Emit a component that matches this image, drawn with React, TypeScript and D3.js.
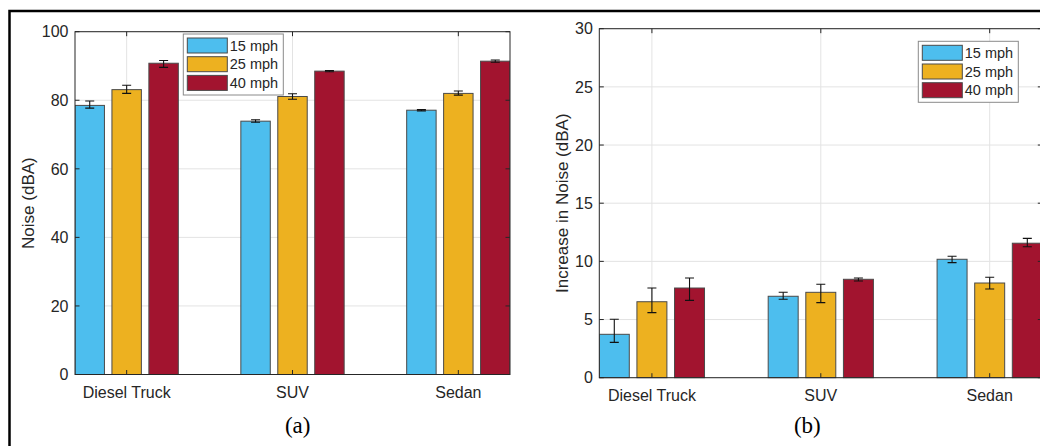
import React from 'react';
import * as d3 from 'd3';

const categories = ['Diesel Truck', 'SUV', 'Sedan'];
const speeds = ['15 mph', '25 mph', '40 mph'];
const speedColors = ['#4DBEEE', '#EDB120', '#A2142F'];

// (a) absolute noise, rows = vehicle, cols = speed
const noiseMean = [
    [78.5, 83.1, 90.8],
    [73.9, 81.1, 88.5],
    [77.1, 82.0, 91.4]
];
const noiseLow = [
    [77.7, 82.0, 89.6],
    [73.6, 80.3, 88.3],
    [76.9, 81.5, 91.1]
];
const noiseHigh = [
    [79.8, 84.4, 91.6],
    [74.3, 81.9, 88.7],
    [77.3, 82.7, 91.75]
];
const noiseTicks = [0, 20, 40, 60, 80, 100];

// (b) increase in noise
const incMean = [
    [3.73, 6.53, 7.71],
    [7.0, 7.34, 8.46],
    [10.18, 8.14, 11.56]
];
const incLow = [
    [3.04, 5.59, 6.65],
    [6.74, 6.45, 8.31],
    [9.89, 7.63, 11.26]
];
const incHigh = [
    [5.02, 7.71, 8.57],
    [7.34, 8.03, 8.57],
    [10.44, 8.63, 11.98]
];
const incTicks = [0, 5, 10, 15, 20, 25, 30];

const FONT = 'Arial, "Liberation Sans", Helvetica, sans-serif';
const AXIS = '#262626';

type PanelProps = {
    left: number; top: number; width: number; height: number;
    mean: number[][]; low: number[][]; high: number[][];
    ticks: number[]; ylabel: string; ylabelX: number;
    legendX: number; legendY: number;
    caption: string; captionX: number;
};

const Panel = (p: PanelProps) => {
    const yMax = p.ticks[p.ticks.length - 1];
    const x0 = d3.scaleBand<string>()
        .domain(categories)
        .range([p.left, p.left + p.width])
        .paddingInner(0.377)
        .paddingOuter(0);
    const x1 = d3.scaleBand<string>()
        .domain(speeds)
        .range([0, x0.bandwidth()])
        .paddingInner(0.203)
        .paddingOuter(0);
    const y = d3.scaleLinear().domain([0, yMax]).range([p.top + p.height, p.top]);
    const cx = (c: string) => (x0(c) as number) + x0.bandwidth() / 2;
    const right = p.left + p.width;
    const bottom = p.top + p.height;
    const tl = 4.5;
    const clipId = `clip-${p.caption.replace(/\W/g, '')}`;

    return (
        <g>
            <defs>
                <clipPath id={clipId}>
                    <rect x={p.left} y={p.top - 1} width={p.width} height={p.height + 2} />
                </clipPath>
            </defs>
            <rect x={p.left} y={p.top} width={p.width} height={p.height} fill="white" />
            {/* grid */}
            {p.ticks.map(t => (
                <line key={'gy' + t} x1={p.left} x2={right} y1={y(t)} y2={y(t)} stroke="#e3e3e3" strokeWidth={1} />
            ))}
            {categories.map(c => (
                <line key={'gx' + c} x1={cx(c)} x2={cx(c)} y1={p.top} y2={bottom} stroke="#e3e3e3" strokeWidth={1} />
            ))}
            {/* bars */}
            <g clipPath={`url(#${clipId})`}>
                {categories.map((c, i) => speeds.map((s, j) => {
                    const bx = (x0(c) as number) + (x1(s) as number);
                    return (
                        <rect key={c + s} x={bx} y={y(p.mean[i][j])} width={x1.bandwidth()}
                            height={bottom - y(p.mean[i][j])} fill={speedColors[j]}
                            stroke="#4a4a4a" strokeWidth={1} />
                    );
                }))}
                {/* error bars */}
                {categories.map((c, i) => speeds.map((s, j) => {
                    const ex = (x0(c) as number) + (x1(s) as number) + x1.bandwidth() / 2;
                    const yl = y(p.low[i][j]);
                    const yh = y(p.high[i][j]);
                    return (
                        <g key={'e' + c + s} stroke="#111" strokeWidth={1.1}>
                            <line x1={ex} x2={ex} y1={yl} y2={yh} />
                            <line x1={ex - 4.5} x2={ex + 4.5} y1={yl} y2={yl} />
                            <line x1={ex - 4.5} x2={ex + 4.5} y1={yh} y2={yh} />
                        </g>
                    );
                }))}
            </g>
            {/* box and ticks */}
            <rect x={p.left} y={p.top} width={p.width} height={p.height} fill="none" stroke={AXIS} strokeWidth={1} />
            {p.ticks.map(t => (
                <g key={'ty' + t} stroke={AXIS}>
                    <line x1={p.left} x2={p.left + tl} y1={y(t)} y2={y(t)} />
                    <line x1={right} x2={right - tl} y1={y(t)} y2={y(t)} />
                </g>
            ))}
            {categories.map(c => (
                <g key={'tx' + c} stroke={AXIS}>
                    <line x1={cx(c)} x2={cx(c)} y1={bottom} y2={bottom - tl} />
                    <line x1={cx(c)} x2={cx(c)} y1={p.top} y2={p.top + tl} />
                </g>
            ))}
            {/* tick labels */}
            {p.ticks.map(t => (
                <text key={'ly' + t} x={p.left - 6.5} y={y(t)} dy="0.36em" textAnchor="end"
                    fontSize={16} fill={AXIS} fontFamily={FONT}>{t}</text>
            ))}
            {categories.map(c => (
                <text key={'lx' + c} x={cx(c)} y={bottom + 23.5} textAnchor="middle"
                    fontSize={16} fill={AXIS} fontFamily={FONT}>{c}</text>
            ))}
            <text transform={`translate(${p.ylabelX},${p.top + p.height / 2}) rotate(-90)`}
                textAnchor="middle" dy="0.36em" fontSize={17} fill={AXIS} fontFamily={FONT}>{p.ylabel}</text>
            {/* legend */}
            <g transform={`translate(${p.legendX},${p.legendY})`}>
                <rect x={0} y={0} width={100} height={61} fill="white" stroke="#8a8a8a" strokeWidth={1} />
                {speeds.map((s, j) => (
                    <g key={'lg' + s} transform={`translate(4,${4 + j * 18.7})`}>
                        <rect x={0} y={0} width={40} height={15} fill={speedColors[j]} stroke="#4a4a4a" strokeWidth={1} />
                        <text x={42.5} y={7.5} dy="0.36em" fontSize={14.5} fill={AXIS} fontFamily={FONT}>{s}</text>
                    </g>
                ))}
            </g>
            <text x={p.captionX} y={433} textAnchor="middle" fontSize={23} fill="#000"
                fontFamily='"Liberation Serif", "Times New Roman", serif'>{p.caption}</text>
        </g>
    );
};

const App = () => (
    <svg width={1040} height={446} style={{ position: 'absolute', left: 0, top: 0, background: 'white' }}>
        <rect x={0} y={0} width={1040} height={446} fill="white" />
        <rect x={9.5} y={11} width={1200} height={600} fill="none" stroke="#000" strokeWidth={2.5} />
        <Panel left={75} top={31.7} width={435} height={342.8}
            mean={noiseMean} low={noiseLow} high={noiseHigh} ticks={noiseTicks}
            ylabel="Noise (dBA)" ylabelX={28}
            legendX={183.3} legendY={34} caption="(a)" captionX={297.7} />
        <Panel left={599.3} top={28.7} width={443} height={349}
            mean={incMean} low={incLow} high={incHigh} ticks={incTicks}
            ylabel="Increase in Noise (dBA)" ylabelX={562}
            legendX={918.3} legendY={41.3} caption="(b)" captionX={807.3} />
    </svg>
);

export default App;
